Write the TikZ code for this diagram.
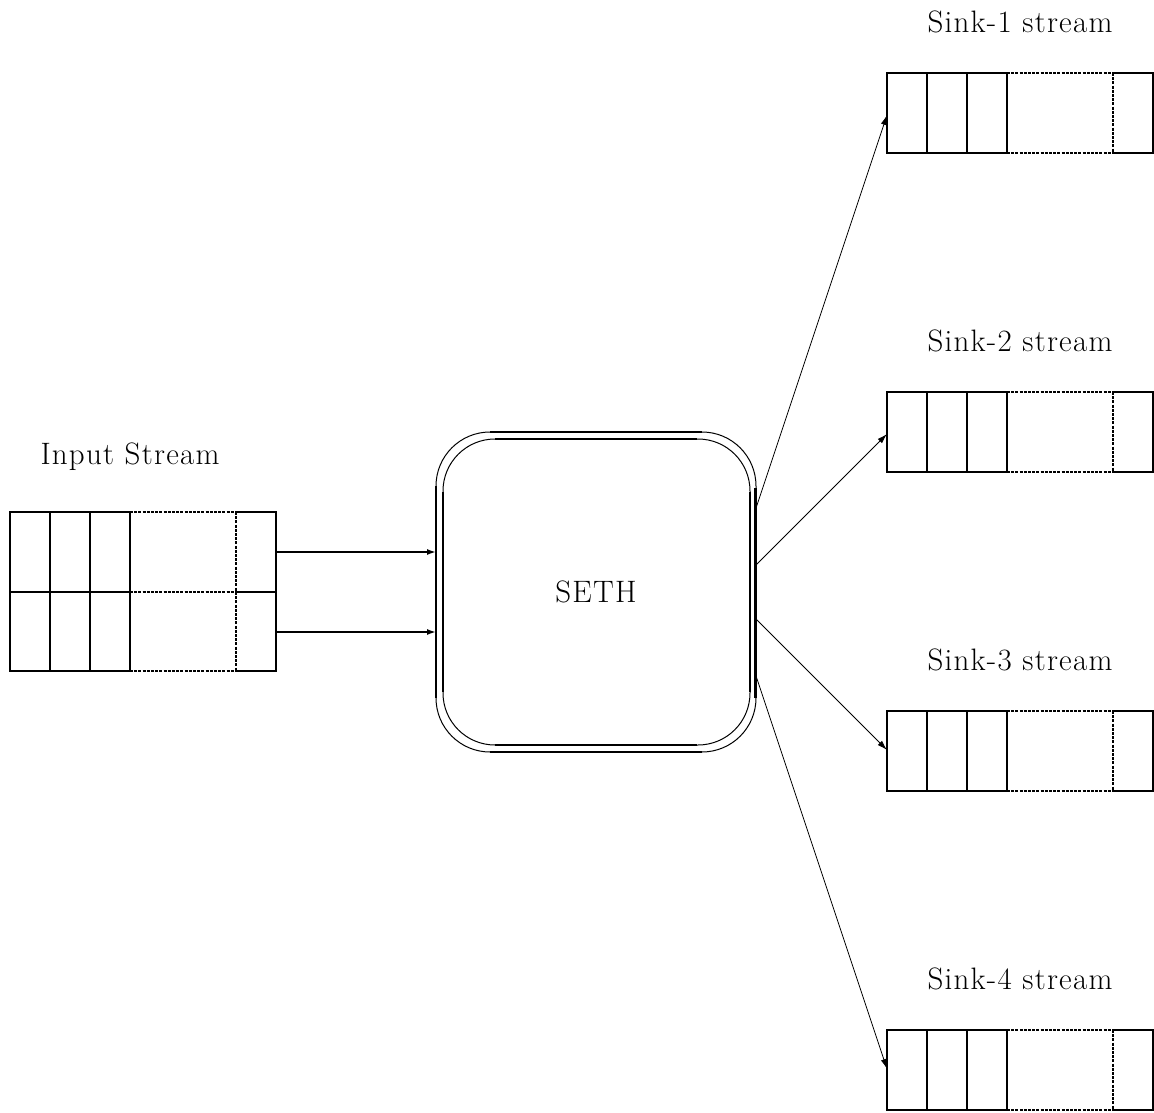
\documentclass[tikz,border=0pt]{standalone}
\usepackage{fontspec}
\setmainfont{Latin Modern Roman}
\usetikzlibrary{arrows.meta}
\begin{document}
\begin{tikzpicture}[x=1pt,y=-1pt,
  cell/.style={line width=2.6pt},
  gap/.style={line width=1.4pt,dash pattern=on 3pt off 1.2pt},
  label/.style={font=\fontsize{31}{36}\selectfont\addfontfeature{LetterSpace=4},inner sep=0pt},
  feed/.style={line width=1.6pt,-{Latex[length=9pt,width=6pt]}},
  fan/.style={line width=0.8pt,-{Latex[length=10pt,width=6pt]}},
  rim/.style={line width=1pt},
  side/.style={line width=2.2pt}]
\useasboundingbox (0,0) rectangle (1154,1113);

% a queue of cells: \queuerow{left x}{top y}{bottom y}
\newcommand\queuerow[3]{%
  \draw[cell] (#1,#2) rectangle ({#1+120},#3);
  \draw[cell] ({#1+40},#2) -- ({#1+40},#3) ({#1+80},#2) -- ({#1+80},#3);
  \draw[gap] ({#1+120},#2) -- ({#1+226},#2) ({#1+120},#3) -- ({#1+226},#3);
  \draw[cell] ({#1+226},#2) -- ({#1+266},#2) -- ({#1+266},#3) -- ({#1+226},#3);
  \draw[gap,line width=2.2pt] ({#1+226},#2) -- ({#1+226},#3);}

% input stream (two rows)
\node[label] (inlabel) at (130,457) {Input Stream};
\queuerow{10}{512}{592}
\queuerow{10}{592}{671}
\coordinate (in1) at (277,552);
\coordinate (in2) at (277,632);

% SETH processor
\draw[rim,rounded corners=54pt] (436,432) rectangle (756,752);
\draw[rim,rounded corners=52pt] (443,439) rectangle (750,745);
\draw[side] (436,486) -- (436,698) (443,492) -- (443,692);
\draw[side] (490,432) -- (702,432) (495,439) -- (697,439);
\draw[side] (490,752) -- (702,752) (495,745) -- (697,745);
\draw[side,line width=3pt] (755,488) -- (755,698);
\draw[side] (750,492) -- (750,692);
\node[label,minimum width=320pt,minimum height=320pt] (seth) at (596,592) {SETH};

\coordinate (a1) at (436,552);
\coordinate (a2) at (436,632);
\draw[feed] (in1) -- (a1);
\draw[feed] (in2) -- (a2);

% sink streams
\foreach \k/\t in {1/73,2/392,3/711,4/1030}{
  \node[label] (sl\k) at (1020,{\t-51}) {Sink-\k\ stream};
  \pgfmathtruncatemacro\b{\t+80}
  \queuerow{887}{\t}{\b}
}
\coordinate (s1) at (887,115);
\coordinate (s2) at (887,434);
\coordinate (s3) at (887,750);
\coordinate (s4) at (887,1069);

\coordinate (o1) at (756,508);
\coordinate (o2) at (756,565);
\coordinate (o3) at (756,619);
\coordinate (o4) at (756,676);
\draw[fan] (o1) -- (s1);
\draw[fan] (o2) -- (s2);
\draw[fan] (o3) -- (s3);
\draw[fan] (o4) -- (s4);
\end{tikzpicture}
\end{document}
